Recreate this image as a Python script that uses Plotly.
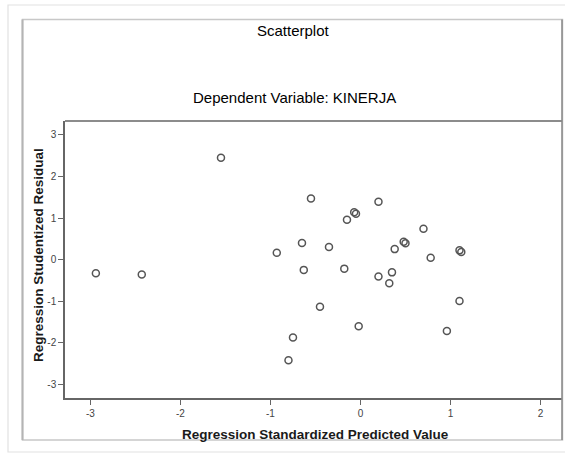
import plotly.graph_objects as go

pred_std = [-2.94, -2.43, -1.55, -0.93, -0.65, -0.63, -0.55, 0.20, -0.07, -0.05,
            -0.15, 0.70, -0.35, 0.48, 0.50, 0.38, 0.78, 1.10, 1.12, -0.18,
            0.20, 0.35, 0.32, 1.10, -0.45, -0.75, -0.02, 0.96, -0.80]
resid_stud = [-0.33, -0.36, 2.45, 0.16, 0.40, -0.25, 1.47, 1.39, 1.14, 1.10,
              0.96, 0.74, 0.30, 0.43, 0.39, 0.25, 0.04, 0.22, 0.18, -0.22,
              -0.41, -0.31, -0.57, -1.00, -1.14, -1.88, -1.61, -1.72, -2.43]
x_ticks = [-3, -2, -1, 0, 1, 2]
x_tick_labels = ["-3", "-2", "-1", "0", "1", "2"]
y_ticks = [-3, -2, -1, 0, 1, 2, 3]
y_tick_labels = ["-3", "-2", "-1", "0", "1", "2", "3"]

W, H = 565, 453
L, R, T, B = 65, 3, 121, 55
pw, ph = W - L - R, H - T - B

def px(x):
    return (x - L) / pw

def py(y):
    return (H - B - y) / ph

fig = go.Figure()
fig.add_trace(go.Scatter(
    x=pred_std, y=resid_stud, mode="markers",
    marker=dict(symbol="circle-open", size=7, color="#555555",
                line=dict(width=1.5, color="#555555")),
    showlegend=False, hoverinfo="skip"))

font_main = "Liberation Sans, Arial, sans-serif"
axis_common = dict(showgrid=False, zeroline=False, showline=True,
                   linecolor="#666666", linewidth=1.5, ticks="outside",
                   ticklen=5, tickwidth=1.3, tickcolor="#666666",
                   tickfont=dict(family=font_main, size=10, color="#444444"))

fig.update_layout(
    width=W, height=H, margin=dict(l=L, r=R, t=T, b=B),
    paper_bgcolor="white", plot_bgcolor="white",
    xaxis=dict(range=[-3.283, 2.239], tickvals=x_ticks, ticktext=x_tick_labels,
               mirror=False, **axis_common),
    yaxis=dict(range=[-3.337, 3.337], tickvals=y_ticks, ticktext=y_tick_labels,
               **axis_common),
    shapes=[
        # outer border
        dict(type="rect", xref="paper", yref="paper", x0=px(8), x1=px(570),
             y0=py(452), y1=py(5), line=dict(color="#e2e2e2", width=1.2)),
        # panel border
        dict(type="rect", xref="paper", yref="paper", x0=px(22.5), x1=px(562.5),
             y0=py(440), y1=py(19.5), line=dict(color="#c8c8c8", width=1.5)),
        # darker left edge of panel
        dict(type="line", xref="paper", yref="paper", x0=px(22.5), x1=px(22.5),
             y0=py(440), y1=py(19.5), line=dict(color="#b4b4b4", width=2)),
        # top frame line of plot area
        dict(type="line", xref="paper", yref="paper", x0=0, x1=1, y0=1, y1=1,
             line=dict(color="#666666", width=1.5)),
        # right frame line
        dict(type="line", xref="paper", yref="paper", x0=1, x1=1, y0=py(440), y1=py(19.5),
             line=dict(color="#888888", width=1.5)),
    ],
    annotations=[
        dict(text="Scatterplot", xref="paper", yref="paper", x=px(293), y=py(30),
             showarrow=False, xanchor="center", yanchor="middle",
             font=dict(family=font_main, size=15, color="#000000")),
        dict(text="Dependent Variable: KINERJA", xref="paper", yref="paper",
             x=px(294), y=py(97), showarrow=False, xanchor="center", yanchor="middle",
             font=dict(family=font_main, size=15, color="#000000")),
        dict(text="<b>Regression Standardized Predicted Value</b>", xref="paper",
             yref="paper", x=px(315), y=py(434), showarrow=False,
             xanchor="center", yanchor="middle",
             font=dict(family=font_main, size=13.5, color="#1a1a1a")),
        dict(text="<b>Regression Studentized Residual</b>", xref="paper",
             yref="paper", x=px(38), y=py(255), showarrow=False, textangle=-90,
             xanchor="center", yanchor="middle",
             font=dict(family=font_main, size=13.5, color="#1a1a1a")),
    ],
)

fig.write_html("out.html")
